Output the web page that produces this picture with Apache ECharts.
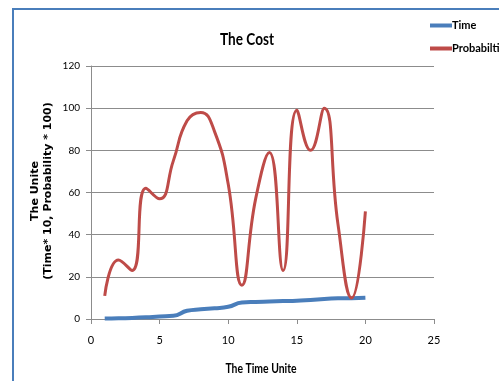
<!DOCTYPE html>
<html>
<head>
<meta charset="utf-8">
<script src="https://cdn.jsdelivr.net/npm/echarts@6/dist/echarts.min.js"></script>
<style>
  html, body { margin: 0; padding: 0; background: #fff; }
  #chart { width: 499px; height: 381px; }
</style>
</head>
<body>
<div id="chart"></div>
<script>
// Time units on the x axis
const timeUnits = [1, 2, 3, 4, 5, 6, 7, 8, 9, 10, 11, 12, 13, 14, 15, 16, 17, 18, 19, 20];
// Time scaled by 10
const timeValues = [0.2, 0.3, 0.5, 0.8, 1.2, 1.5, 3.9, 4.6, 5.1, 5.8, 7.8, 8.1, 8.3, 8.5, 8.7, 9.0, 9.5, 9.8, 9.9, 10.1];
// Probability scaled by 100
const probValues = [11, 28, 23, 62, 57, 75, 94, 98, 89, 64, 16, 57, 79, 23, 99, 80, 100, 45, 10, 51];
const xTicks = [0, 5, 10, 15, 20, 25];
const yTicks = [0, 20, 40, 60, 80, 100, 120];

const sans = 'Lato, "Liberation Sans", Arial, sans-serif';
const yTitleFont = 'bold 11px "DejaVu Sans", Verdana, sans-serif';

const chart = echarts.init(document.getElementById('chart'));
chart.setOption({
  animation: false,
  backgroundColor: '#fff',
  graphic: [
    // chart frame
    { type: 'rect', shape: { x: 13, y: 9, width: 600, height: 500 },
      style: { fill: 'none', stroke: '#4a7ebb', lineWidth: 2 }, silent: true },
    // title (condensed)
    { type: 'text', x: 247, y: 40, scaleX: 0.8,
      style: { text: 'The Cost', fill: '#000', font: 'bold 17px ' + sans,
        align: 'center', verticalAlign: 'middle' } },
    // x axis title (condensed)
    { type: 'text', x: 261, y: 369, scaleX: 0.8,
      style: { text: 'The Time Unite', fill: '#000', font: 'bold 13px ' + sans,
        align: 'center', verticalAlign: 'middle' } },
    // y axis title, two rotated lines
    { type: 'text', x: 35, y: 191, rotation: Math.PI / 2,
      style: { text: 'The Unite', fill: '#000', font: yTitleFont,
        align: 'center', verticalAlign: 'middle' } },
    { type: 'text', x: 48, y: 191, rotation: Math.PI / 2,
      style: { text: '(Time* 10, Probability * 100)', fill: '#000', font: yTitleFont,
        align: 'center', verticalAlign: 'middle' } }
  ],
  legend: {
    orient: 'vertical', left: 430, top: 20, itemGap: 12, padding: 0,
    itemWidth: 22, itemHeight: 4, icon: 'rect',
    textStyle: { fontFamily: sans, fontSize: 11, fontWeight: 'bold', color: '#000',
      padding: [0, 0, 0, -5] },
    data: ['Time', 'Probabiltiy']
  },
  grid: { left: 91, right: 65, top: 66, bottom: 62, containLabel: false, outerBoundsMode: 'none' },
  xAxis: {
    type: 'value', min: xTicks[0], max: xTicks[xTicks.length - 1], interval: 5,
    axisLine: { lineStyle: { color: '#8c8c8c', width: 1 } },
    axisTick: { show: true, inside: false, length: 5, lineStyle: { color: '#8c8c8c' } },
    axisLabel: { fontFamily: sans, fontSize: 11, color: '#000', margin: 16 },
    splitLine: { show: false }
  },
  yAxis: {
    type: 'value', min: yTicks[0], max: yTicks[yTicks.length - 1], interval: 20,
    axisLine: { show: true, lineStyle: { color: '#8c8c8c', width: 1 } },
    axisTick: { show: true, inside: false, length: 5, lineStyle: { color: '#8c8c8c' } },
    axisLabel: { fontFamily: sans, fontSize: 10, color: '#000', margin: 11 },
    splitLine: { show: true, lineStyle: { color: '#8c8c8c', width: 1 } }
  },
  series: [
    {
      name: 'Time', type: 'line', smooth: 0.5, showSymbol: false,
      data: timeUnits.map((t, i) => [t, timeValues[i]]),
      lineStyle: { color: '#4a7ebb', width: 4 }, itemStyle: { color: '#4a7ebb' }
    },
    {
      name: 'Probabiltiy', type: 'line', smooth: 0.5, showSymbol: false,
      data: timeUnits.map((t, i) => [t, probValues[i]]),
      lineStyle: { color: '#be4b48', width: 3 }, itemStyle: { color: '#be4b48' }
    }
  ]
});
</script>
</body>
</html>
